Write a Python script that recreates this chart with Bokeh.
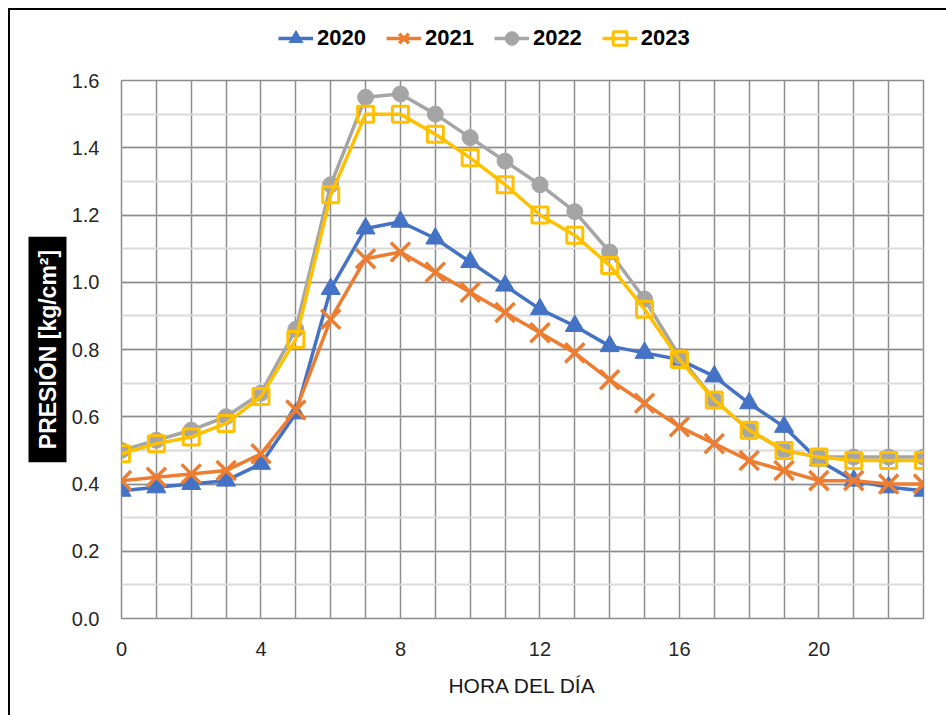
from bokeh.plotting import figure
from bokeh.layouts import column
from bokeh.models import (Legend, LegendItem, Title, FixedTicker, SingleIntervalTicker,
                          NumeralTickFormatter, Range1d)
from bokeh.embed import file_html
from bokeh.resources import INLINE

hours = list(range(24))
p2020 = [0.38, 0.39, 0.40, 0.41, 0.46, 0.61, 0.98, 1.16, 1.18, 1.13, 1.06, 0.99,
         0.92, 0.87, 0.81, 0.79, 0.77, 0.72, 0.64, 0.57, 0.47, 0.41, 0.39, 0.38]
p2021 = [0.41, 0.42, 0.43, 0.44, 0.49, 0.62, 0.89, 1.07, 1.09, 1.03, 0.97, 0.91,
         0.85, 0.79, 0.71, 0.64, 0.57, 0.52, 0.47, 0.44, 0.41, 0.41, 0.40, 0.40]
p2022 = [0.50, 0.53, 0.56, 0.60, 0.67, 0.86, 1.29, 1.55, 1.56, 1.50, 1.43, 1.36,
         1.29, 1.21, 1.09, 0.95, 0.78, 0.65, 0.56, 0.50, 0.48, 0.48, 0.48, 0.48]
p2023 = [0.49, 0.52, 0.54, 0.58, 0.66, 0.83, 1.26, 1.50, 1.50, 1.44, 1.37, 1.29,
         1.20, 1.14, 1.05, 0.92, 0.77, 0.65, 0.56, 0.50, 0.48, 0.47, 0.47, 0.47]
series_names = ["2020", "2021", "2022", "2023"]
x_ticks = [0, 4, 8, 12, 16, 20]

FONT = "Liberation Sans"
colors = ["#4472C4", "#ED7D31", "#A5A5A5", "#FFC000"]
data = [p2020, p2021, p2022, p2023]


def add_series(fig, name, xs, ys, c):
    ln = fig.line(xs, ys, line_color=c, line_width=3.5)
    if name == "2020":
        sc = fig.scatter(xs, ys, marker="triangle", size=19, fill_color=c, line_color=c)
    elif name == "2021":
        sc = fig.scatter(xs, ys, marker="x", size=27, line_color=c, line_width=3.5)
    elif name == "2022":
        sc = fig.scatter(xs, ys, marker="circle", size=16, fill_color=c, line_color=c)
    else:
        sc = fig.scatter(xs, ys, marker="square", size=16, fill_color=None,
                         line_color=c, line_width=3)
    return ln, sc


# ---- main chart ----
p = figure(width=936, height=649, output_backend="svg", toolbar_location=None,
           x_range=Range1d(0, 23), y_range=Range1d(0, 1.6),
           min_border_left=111, min_border_right=23, min_border_top=14, min_border_bottom=97)
p.background_fill_color = "white"
p.border_fill_color = "white"
p.outline_line_color = "#8c8c8c"
p.outline_line_width = 1.5

p.xaxis.ticker = FixedTicker(ticks=x_ticks)
p.yaxis.ticker = SingleIntervalTicker(interval=0.2, num_minor_ticks=2)
p.yaxis.formatter = NumeralTickFormatter(format="0.0")
for ax in (p.xaxis[0], p.yaxis[0]):
    ax.axis_line_color = None
    ax.major_tick_line_color = None
    ax.minor_tick_line_color = None
    ax.major_label_text_font = FONT
    ax.major_label_text_font_size = "20px"
    ax.major_label_text_color = "#262626"
p.xaxis.major_label_standoff = 17
p.yaxis.major_label_standoff = 16
p.xaxis.axis_label = "HORA DEL DÍA"
p.xaxis.axis_label_text_font = FONT
p.xaxis.axis_label_text_font_size = "21px"
p.xaxis.axis_label_text_font_style = "normal"
p.xaxis.axis_label_text_color = "#1a1a1a"
p.xaxis.axis_label_standoff = 15

p.xgrid.ticker = FixedTicker(ticks=hours)
p.xgrid.grid_line_color = "#8c8c8c"
p.xgrid.grid_line_width = 1.5
p.ygrid.grid_line_color = "#8c8c8c"
p.ygrid.grid_line_width = 1.5
p.ygrid.minor_grid_line_color = "#d9d9d9"
p.ygrid.minor_grid_line_width = 2

for name, vals, c in zip(series_names, data, colors):
    add_series(p, name, hours, vals, c)

ylab = Title(text="PRESIÓN [kg/cm²]", align="center",
             text_font=FONT, text_font_size="23px", text_font_style="bold",
             text_color="white", background_fill_color="black",
             padding=(13, 6), standoff=4)
p.add_layout(ylab, "left")

# ---- legend strip (same glyph styles, points kept outside the visible range) ----
lg = figure(width=936, height=56, output_backend="svg", toolbar_location=None,
            x_range=Range1d(0, 1), y_range=Range1d(0, 1),
            min_border_left=0, min_border_right=0, min_border_top=0, min_border_bottom=0)
lg.axis.visible = False
lg.grid.visible = False
lg.outline_line_color = None
lg.background_fill_color = "white"
lg.border_fill_color = "white"
items = []
for name, c in zip(series_names, colors):
    ln, sc = add_series(lg, name, [-5, -4], [-5, -4], c)
    items.append(LegendItem(label=name, renderers=[ln, sc]))
legend = Legend(items=items, orientation="horizontal", location=(157, 11),
                label_text_font=FONT, label_text_font_size="22px",
                label_text_font_style="bold", label_text_color="black",
                glyph_width=35, glyph_height=34, label_standoff=4, spacing=20,
                padding=0, margin=0, border_line_color=None,
                background_fill_alpha=0)
lg.add_layout(legend, "center")

layout = column(lg, p, spacing=0,
                styles={"margin-left": "8px", "margin-top": "8px",
                        "border-left": "2px solid black", "border-top": "2px solid black"})

open("out.html", "w").write(file_html(layout, INLINE))
